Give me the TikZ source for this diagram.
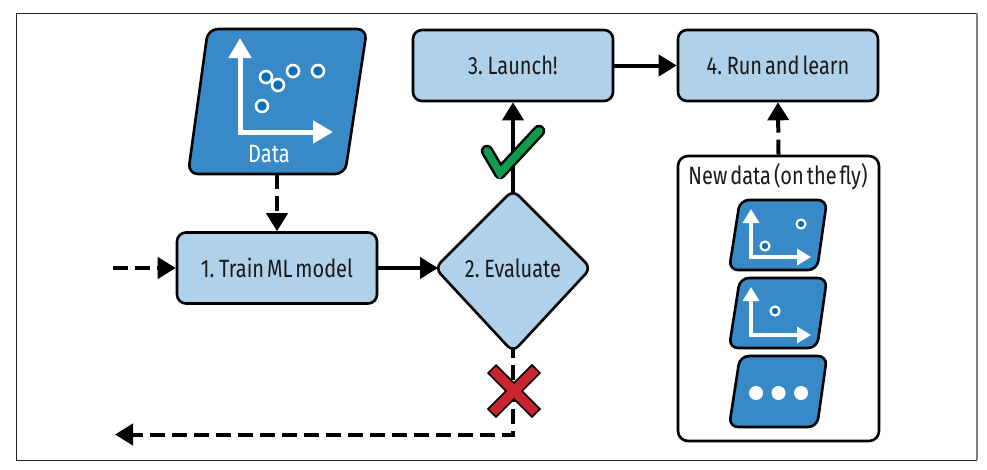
\documentclass[tikz,border=0pt]{standalone}
\usepackage{fontspec}
\setmainfont[FakeStretch=0.8,WordSpace=0.55]{Fira Sans}
\usetikzlibrary{arrows.meta}
\definecolor{boxblue}{HTML}{AFD1EA}
\definecolor{panelblue}{HTML}{3789C8}
\definecolor{dotblue}{HTML}{0A6FB8}
\definecolor{okgreen}{HTML}{0B9C4C}
\definecolor{nored}{HTML}{C9252F}
\tikzset{
  x=1pt,y=-1pt,
  labeltext/.style={font=\fontsize{25}{29}\selectfont,text=black!90},
  stepbox/.style={labeltext,draw=black,line width=2.6pt,fill=boxblue,rounded corners=9pt,minimum width=200pt,minimum height=71pt,inner sep=0pt},
  decision/.style={draw=black,line width=2.6pt,fill=boxblue,rounded corners=8pt},
  panelbox/.style={draw=black,line width=2.6pt,fill=white,rounded corners=10pt,minimum width=201pt,minimum height=285pt,inner sep=0pt},
  panel/.style={draw=black,line width=2.6pt,fill=panelblue,rounded corners=10pt},
  smallpanel/.style={draw=black,line width=2.6pt,fill=panelblue,rounded corners=9pt},
  solidflow/.style={line width=4pt,-{Triangle[length=18pt,width=21pt]}},
  dashflow/.style={line width=4pt,dash pattern=on 15pt off 7pt,-{Triangle[length=18pt,width=21pt]}},
  bigaxis/.style={draw=white,line width=5pt,-{Triangle[length=20pt,width=22pt]}},
  smallaxis/.style={draw=white,line width=3.6pt,-{Triangle[length=14pt,width=16pt]}},
  bigdot/.style={circle,draw=white,line width=2.6pt,fill=dotblue,minimum size=12pt,inner sep=0pt},
  smalldot/.style={circle,draw=white,line width=2.2pt,fill=dotblue,minimum size=9pt,inner sep=0pt},
  whitedot/.style={circle,fill=white,minimum size=14pt,inner sep=0pt},
}
\begin{document}
\begin{tikzpicture}
\useasboundingbox (0,0) rectangle (987,469);
\fill[white] (0,0) rectangle (987,469);
\draw[line width=1pt,black!85] (977,460) -- (16,460) -- (16,13) -- (977,13);
\draw[line width=1.6pt,black!50] (977,13) -- (977,460);

% Data panel
\draw[panel] (208,29) -- (367,29) -- (345,174) -- (188,174) -- cycle;
\coordinate (databottom) at (277,174);
\coordinate (axo) at (240,132);
\coordinate (axy) at (240,38);
\coordinate (axx) at (333,132);
\draw[bigaxis] ([yshift=-2.5pt]axo) -- (axy);
\draw[bigaxis] ([xshift=-2.5pt]axo) -- (axx);
\node[bigdot] (d1) at (266,77) {};
\node[bigdot] (d2) at (278,85) {};
\node[bigdot] (d3) at (293,71) {};
\node[bigdot] (d4) at (318,71) {};
\node[bigdot] (d5) at (262,106) {};
\node[labeltext,text=white] (datalabel) at (269,154) {Data};

% Process nodes
\node[stepbox] (train) at (277,268) {1. Train ML model};
\draw[decision] (513,190) -- (591,268) -- (513,352) -- (435,268) -- cycle;
\node[labeltext,inner sep=0pt] (eval) at (513,268) {2. Evaluate};
\coordinate (evaltop) at (513,193);
\coordinate (evalleft) at (438,268);
\coordinate (evalbottom) at (513,349);
\node[stepbox] (launch) at (513,65.5) {3. Launch!};
\node[stepbox] (run) at (778,65.5) {4. Run and learn};

% New data panel
\node[panelbox] (newdata) at (778.5,298.5) {};
\node[labeltext] (newlabel) at (778,177) {New data (on the fly)};
\draw[smallpanel] (740,200) -- (827,200) -- (817,270) -- (729,270) -- cycle;
\draw[smallaxis] (751,258.8) -- (751,209);
\draw[smallaxis] (749.2,257) -- (811,257);
\node[smalldot] (n1) at (765,246) {};
\node[smalldot] (n2) at (801,224) {};
\draw[smallpanel] (740,278) -- (827,278) -- (817,348) -- (729,348) -- cycle;
\draw[smallaxis] (751,336.8) -- (751,287);
\draw[smallaxis] (749.2,335) -- (811,335);
\node[smalldot] (n3) at (775,311) {};
\draw[smallpanel] (740,356) -- (827,356) -- (817,427) -- (729,427) -- cycle;
\node[whitedot] (w1) at (756,393) {};
\node[whitedot] (w2) at (778.5,393) {};
\node[whitedot] (w3) at (801,393) {};

% Connectors
\coordinate (instart) at (113,268);
\coordinate (reject) at (115,434.5);
\coordinate (rejectcorner) at (513,434.5);
\draw[dashflow] (databottom) -- (train.north -| databottom);
\draw[dashflow] (instart) -- (train.west);
\draw[solidflow] (train.east) -- (evalleft);
\draw[solidflow] (evaltop) -- (launch.south);
\draw[solidflow] (launch.east) -- (run.west);
\draw[dashflow] (newdata.north) -- (run.south);
\draw[dashflow,dash phase=6pt] (evalbottom) -- (rejectcorner) -- (reject);

% Check mark
\draw[black,line width=12.5pt,line cap=round,line join=round] (487,151) -- (500,173) -- (539,131);
\draw[okgreen,line width=7.5pt,line cap=round,line join=miter] (487,151) -- (500,173) -- (539,131);
% Cross
\draw[black,line width=13pt] (491.5,368.5) -- (536.5,413.5) (536.5,368.5) -- (491.5,413.5);
\draw[nored,line width=9.5pt] (492.7,369.7) -- (535.3,412.3) (535.3,369.7) -- (492.7,412.3);
\end{tikzpicture}
\end{document}
